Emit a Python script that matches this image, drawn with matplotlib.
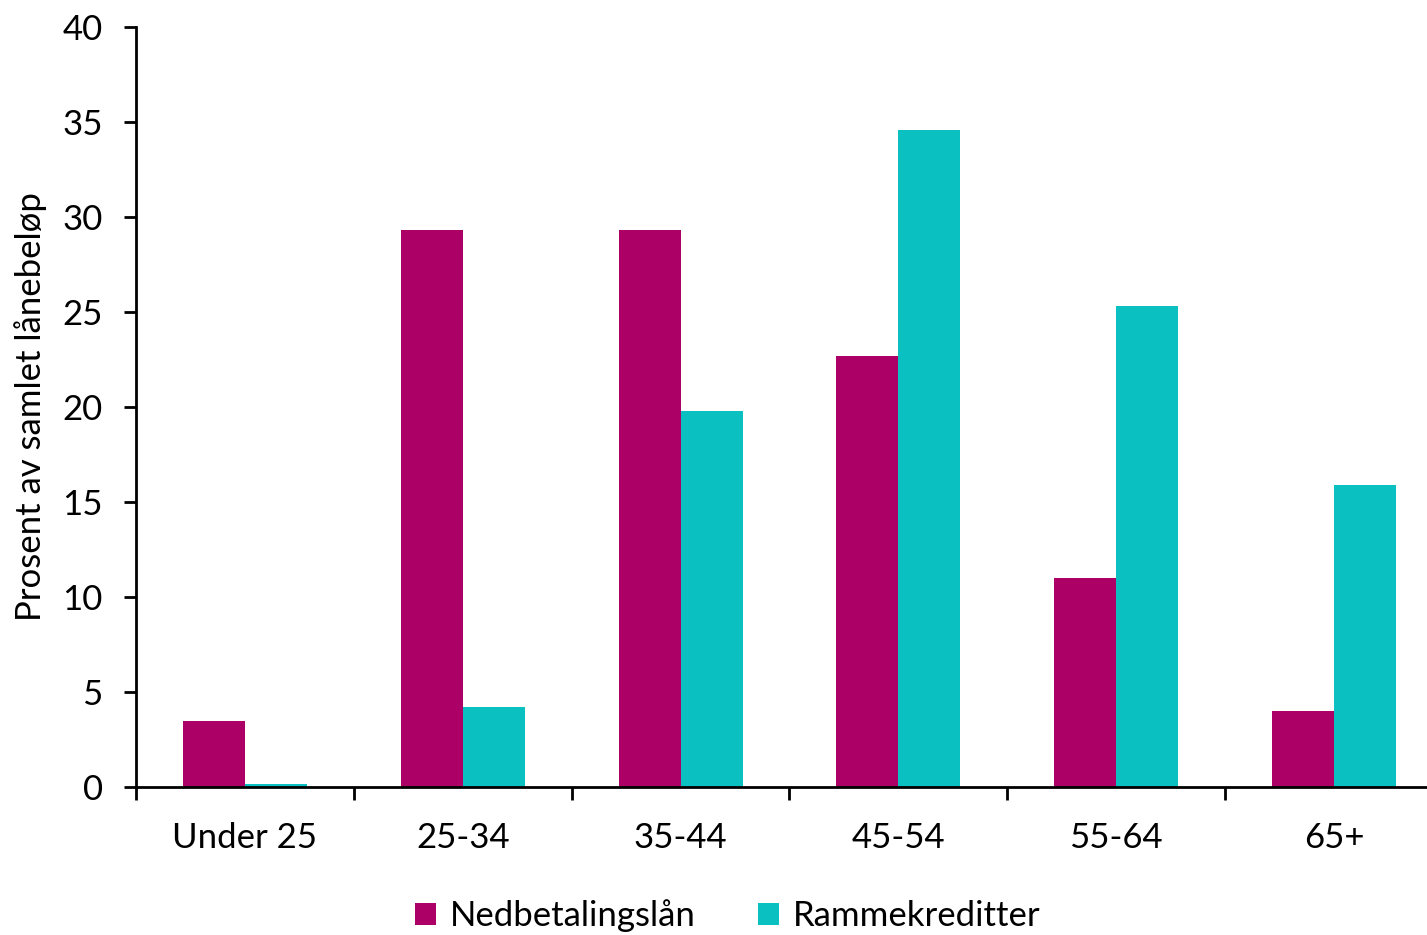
import matplotlib
matplotlib.use("Agg")
import matplotlib.pyplot as plt
import numpy as np

#%% DATA
categories = ["Under 25", "25-34", "35-44", "45-54", "55-64", "65+"]
nedbetalingslan = [3.5, 29.3, 29.3, 22.7, 11.0, 4.0]
rammekreditter = [0.15, 4.2, 19.8, 34.6, 25.3, 15.9]

#%% PLOT
plt.rcParams['font.family'] = ['Lato', 'DejaVu Sans']

W, H = 1427, 935
fig = plt.figure(figsize=(W / 100, H / 100), dpi=100)
ax = fig.add_axes([136 / W, 1 - 787 / H, 1307 / W, 760 / H])

x = np.arange(len(categories))
bw = 0.285
ax.bar(x - bw / 2, nedbetalingslan, bw, color="#AD0066", label="Nedbetalingslån")
ax.bar(x + bw / 2, rammekreditter, bw, color="#0BC0C0", label="Rammekreditter")

ax.set_xlim(-0.5, len(categories) - 0.5)
ax.set_ylim(0, 40)
ax.set_yticks(range(0, 41, 5))
ax.set_xticks(x)
ax.set_xticklabels(categories)
ax.set_xticks(np.arange(-0.5, len(categories), 1), minor=True)
ax.tick_params(axis="x", which="major", length=0, pad=25, labelsize=25)
ax.tick_params(axis="x", which="minor", length=9, width=2)
ax.tick_params(axis="y", length=9, width=2, labelsize=25, pad=15)

for s in ["top", "right"]:
    ax.spines[s].set_visible(False)
for s in ["left", "bottom"]:
    ax.spines[s].set_linewidth(2)

ax.set_ylabel("Prosent av samlet lånebeløp", fontsize=25)
ax.yaxis.set_label_coords(-0.068, 0.5)

fig.legend(loc="center", bbox_to_anchor=(0.51, 1 - 916 / H), ncol=2, frameon=False,
           fontsize=25, handlelength=0.6, handleheight=0.6, columnspacing=1.8,
           handletextpad=0.4)

fig.savefig("out.png", dpi=100)
